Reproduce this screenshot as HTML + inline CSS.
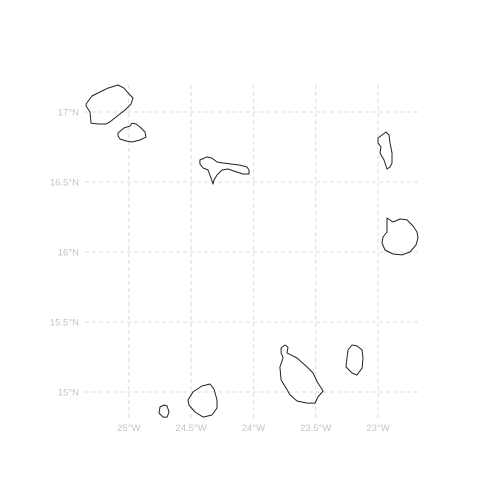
<!DOCTYPE html>
<html><head><meta charset="utf-8"><style>
html,body{margin:0;padding:0;background:#fff;}
svg{display:block;font-family:"Liberation Sans",sans-serif;}
</style></head><body>
<svg id="map" width="504" height="504" viewBox="0 0 504 504"></svg>
<script>
const lonTicks=[-25,-24.5,-24,-23.5,-23];
const lonLabels=["25°W","24.5°W","24°W","23.5°W","23°W"];
const latTicks=[17,16.5,16,15.5,15];
const latLabels=["17°N","16.5°N","16°N","15.5°N","15°N"];
const islandNames=["santo-antao","sao-vicente","sao-nicolau","sal","boa-vista","santiago","maio","fogo","brava"];
const santoAntao=[[-25.343,17.057],[-25.295,17.114],[-25.231,17.143],[-25.167,17.171],[-25.087,17.193],[-25.039,17.171],[-24.998,17.129],[-24.966,17.100],[-24.982,17.057],[-25.030,17.014],[-25.103,16.964],[-25.151,16.929],[-25.183,16.914],[-25.247,16.914],[-25.303,16.921],[-25.311,17.000],[-25.343,17.043]];
const saoVicente=[[-25.087,16.850],[-25.039,16.886],[-24.990,16.900],[-24.974,16.921],[-24.942,16.914],[-24.910,16.893],[-24.870,16.857],[-24.862,16.821],[-24.910,16.800],[-24.974,16.786],[-25.022,16.793],[-25.071,16.807],[-25.087,16.829]];
const saoNicolau=[[-24.429,16.657],[-24.372,16.679],[-24.332,16.671],[-24.292,16.643],[-24.244,16.636],[-24.188,16.629],[-24.108,16.621],[-24.051,16.607],[-24.035,16.586],[-24.035,16.557],[-24.083,16.557],[-24.132,16.571],[-24.204,16.593],[-24.252,16.586],[-24.292,16.550],[-24.316,16.514],[-24.324,16.486],[-24.340,16.529],[-24.364,16.586],[-24.404,16.600],[-24.429,16.629]];
const sal=[[-23.000,16.814],[-22.968,16.836],[-22.936,16.857],[-22.912,16.836],[-22.904,16.779],[-22.888,16.707],[-22.888,16.636],[-22.904,16.607],[-22.928,16.593],[-22.952,16.657],[-22.984,16.707],[-22.976,16.750],[-23.000,16.779]];
const boaVista=[[-22.928,16.243],[-22.880,16.214],[-22.823,16.236],[-22.767,16.229],[-22.719,16.186],[-22.687,16.143],[-22.679,16.100],[-22.695,16.050],[-22.743,16.000],[-22.807,15.979],[-22.880,15.986],[-22.944,16.014],[-22.968,16.064],[-22.960,16.107],[-22.928,16.143],[-22.928,16.207]];
const santiago=[[-23.778,15.314],[-23.746,15.336],[-23.722,15.321],[-23.730,15.279],[-23.650,15.243],[-23.570,15.179],[-23.522,15.136],[-23.482,15.064],[-23.441,15.007],[-23.482,14.964],[-23.506,14.921],[-23.570,14.921],[-23.650,14.936],[-23.706,14.979],[-23.738,15.029],[-23.778,15.086],[-23.787,15.179],[-23.762,15.243],[-23.778,15.279]];
const maio=[[-23.241,15.300],[-23.209,15.336],[-23.169,15.329],[-23.128,15.300],[-23.120,15.243],[-23.128,15.171],[-23.169,15.121],[-23.209,15.136],[-23.257,15.179],[-23.249,15.243]];
const fogo=[[-24.525,14.943],[-24.485,15.000],[-24.413,15.043],[-24.348,15.057],[-24.316,15.021],[-24.292,14.943],[-24.292,14.886],[-24.332,14.836],[-24.404,14.821],[-24.469,14.857],[-24.517,14.907]];
const brava=[[-24.750,14.893],[-24.717,14.907],[-24.693,14.900],[-24.677,14.857],[-24.693,14.821],[-24.725,14.821],[-24.758,14.850]];
const islands=[santoAntao,saoVicente,saoNicolau,sal,boaVista,santiago,maio,fogo,brava];

const NS="http://www.w3.org/2000/svg";
const svg=document.getElementById('map');
const X=lon=>378+(lon+23)*124.6;
const Y=lat=>392-(lat-15)*140;
function mk(t,a){const e=document.createElementNS(NS,t);for(const k in a)e.setAttribute(k,a[k]);svg.appendChild(e);return e;}

lonTicks.forEach((v,i)=>{
  const l=mk('line',{x1:X(v),x2:X(v),y1:85,y2:418,stroke:'#dcdcdc','stroke-width':1,'stroke-dasharray':'4,3'});
  
  
  const t=mk('text',{x:X(v),y:431,'text-anchor':'middle','font-size':9.5,fill:'#c4c4c4'});
  t.textContent=lonLabels[i];
  
  
});
latTicks.forEach((v,i)=>{
  const l=mk('line',{x1:85,x2:419,y1:Y(v),y2:Y(v),stroke:'#dcdcdc','stroke-width':1,'stroke-dasharray':'4,3'});
  
  
  const t=mk('text',{x:79,y:Y(v)+3.5,'text-anchor':'end','font-size':9.5,fill:'#c4c4c4'});
  t.textContent=latLabels[i];
  
  
});
islands.forEach((pts,i)=>{
  const d=pts.map((p,j)=>(j?'L':'M')+X(p[0]).toFixed(1)+','+Y(p[1]).toFixed(1)).join('')+'Z';
  const p=mk('path',{d:d,fill:'none',stroke:'#222','stroke-width':1,'stroke-linejoin':'round'});
  
  
});
</script>
</body></html>
